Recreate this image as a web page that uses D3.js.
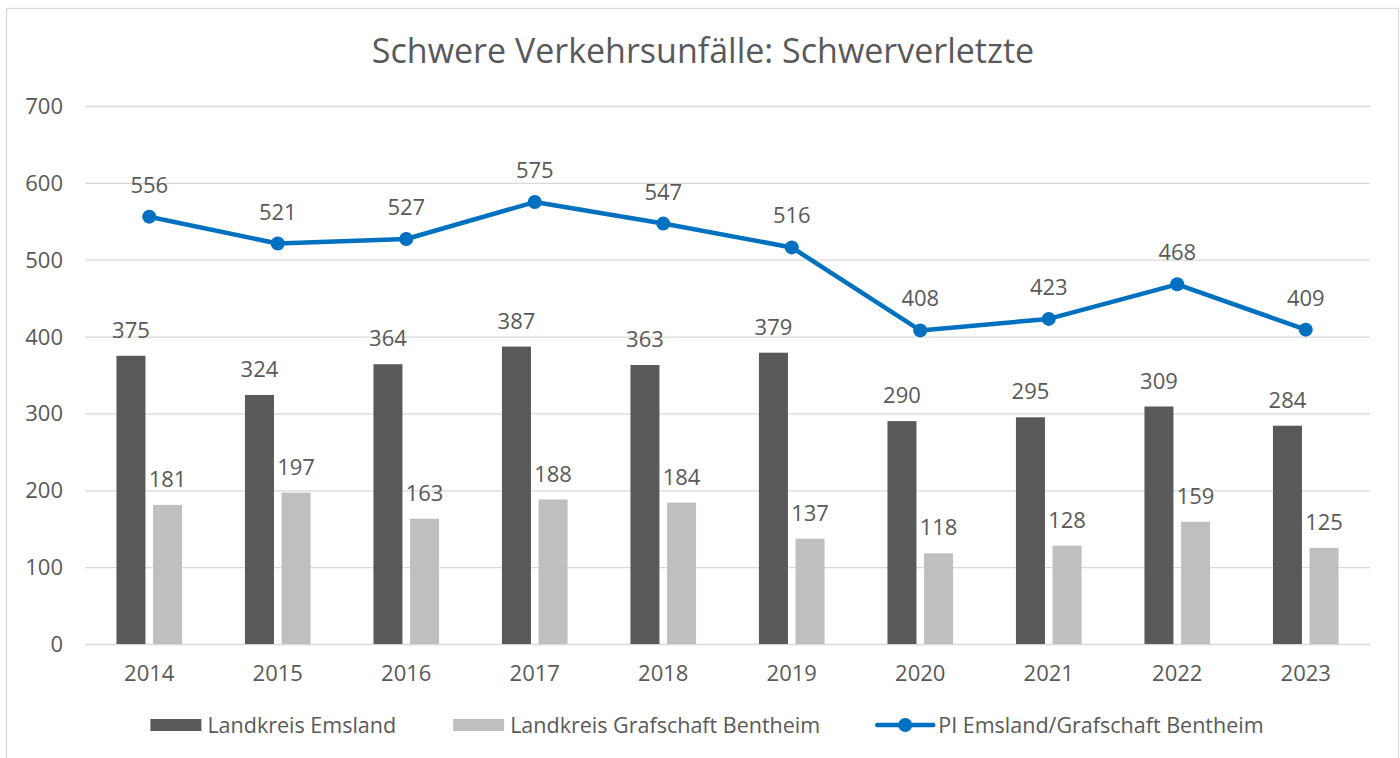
<!DOCTYPE html>
<html>
<head>
<meta charset="utf-8">
<script src="https://cdn.jsdelivr.net/npm/d3@7"></script>
<style>
  body { margin: 0; background: #fff; }
  svg text { font-family: "Open Sans", sans-serif; fill: #595959; }
</style>
</head>
<body>
<svg id="chart" width="1400" height="758"></svg>
<script>
const years = ['2014', '2015', '2016', '2017', '2018', '2019', '2020', '2021', '2022', '2023']
const emsland = [375, 324, 364, 387, 363, 379, 290, 295, 309, 284]
const bentheim = [181, 197, 163, 188, 184, 137, 118, 128, 159, 125]
const piTotal = [556, 521, 527, 575, 547, 516, 408, 423, 468, 409]
const yTicks = [0, 100, 200, 300, 400, 500, 600, 700]
const seriesNames = ['Landkreis Emsland', 'Landkreis Grafschaft Bentheim', 'PI Emsland/Grafschaft Bentheim']
const title = 'Schwere Verkehrsunfälle: Schwerverletzte'

const dark = '#595959'
const light = '#bfbfbf'
const blue = '#0070c0'
const grid = '#d9d9d9'

const svg = d3.select('#chart')
const plotLeft = 85, plotRight = 1370, plotTop = 106, plotBottom = 644

// chart frame
svg.append('rect')
  .attr('x', 6.5).attr('y', 8.5)
  .attr('width', 1392).attr('height', 780)
  .attr('fill', 'none')
  .attr('stroke', grid)
  .attr('stroke-width', 1.3)

svg.append('text')
  .text(title)
  .attr('x', 703)
  .attr('y', 63)
  .attr('text-anchor', 'middle')
  .style('font-size', '34px')

const x = d3.scaleBand().domain(years).range([plotLeft, plotRight])
const y = d3.scaleLinear().domain([0, 700]).range([plotBottom, plotTop])
const barW = 29, barGap = 7.6

// gridlines
svg.append('g')
  .attr('transform', `translate(${plotLeft}, 0)`)
  .call(d3.axisLeft(y).tickValues(yTicks).tickSize(-(plotRight - plotLeft)).tickFormat(''))
  .call(g => g.select('.domain').remove())
  .call(g => g.selectAll('line').attr('stroke', grid).attr('stroke-width', 1.3))

// y labels
svg.append('g')
  .selectAll('text')
  .data(yTicks)
  .enter().append('text')
  .attr('x', 63)
  .attr('y', d => y(d) + 8)
  .attr('text-anchor', 'end')
  .style('font-size', '22px')
  .text(d => d)

// x labels
svg.append('g')
  .selectAll('text')
  .data(years)
  .enter().append('text')
  .attr('x', d => x(d) + x.bandwidth() / 2)
  .attr('y', 681)
  .attr('text-anchor', 'middle')
  .style('font-size', '22px')
  .text(d => d)

const bars = [
  { values: emsland, color: dark, offset: -barGap / 2 - barW },
  { values: bentheim, color: light, offset: barGap / 2 }
]

bars.forEach(s => {
  const g = svg.append('g')
  g.selectAll('rect')
    .data(s.values)
    .enter().append('rect')
    .attr('x', (d, i) => x(years[i]) + x.bandwidth() / 2 + s.offset)
    .attr('y', d => y(d))
    .attr('width', barW)
    .attr('height', d => plotBottom - y(d))
    .attr('fill', s.color)
  g.selectAll('text')
    .data(s.values)
    .enter().append('text')
    .attr('x', (d, i) => x(years[i]) + x.bandwidth() / 2 + s.offset + barW / 2)
    .attr('y', d => y(d) - 18)
    .attr('text-anchor', 'middle')
    .style('font-size', '22px')
    .text(d => d)
})

// line series
const cx = (d, i) => x(years[i]) + x.bandwidth() / 2
svg.append('path')
  .datum(piTotal)
  .attr('d', d3.line().x(cx).y(d => y(d)))
  .attr('fill', 'none')
  .attr('stroke', blue)
  .attr('stroke-width', 4.5)
  .attr('stroke-linejoin', 'round')

svg.append('g')
  .selectAll('circle')
  .data(piTotal)
  .enter().append('circle')
  .attr('cx', cx)
  .attr('cy', d => y(d))
  .attr('r', 7)
  .attr('fill', blue)

svg.append('g')
  .selectAll('text')
  .data(piTotal)
  .enter().append('text')
  .attr('x', cx)
  .attr('y', d => y(d) - 24)
  .attr('text-anchor', 'middle')
  .style('font-size', '22px')
  .text(d => d)

// legend
const legend = svg.append('g')
const items = seriesNames.map((name, i) => {
  const g = legend.append('g')
  if (i < 2) {
    g.append('rect')
      .attr('x', 0).attr('y', -6)
      .attr('width', 51).attr('height', 12)
      .attr('fill', i === 0 ? dark : light)
  } else {
    g.append('line')
      .attr('x1', 0).attr('x2', 56)
      .attr('stroke', blue).attr('stroke-width', 4.5)
      .attr('stroke-linecap', 'round')
    g.append('circle')
      .attr('cx', 28).attr('r', 7).attr('fill', blue)
  }
  const t = g.append('text')
    .attr('x', i < 2 ? 57 : 61)
    .attr('y', 8)
    .style('font-size', '21.5px')
    .text(name)
  return { g, w: (i < 2 ? 57 : 61) + t.node().getComputedTextLength() }
})
const spacing = 57
const total = d3.sum(items, d => d.w) + spacing * (items.length - 1)
let lx = 707 - total / 2
items.forEach(it => {
  it.g.attr('transform', `translate(${lx}, 725)`)
  lx += it.w + spacing
})
</script>
</body>
</html>
